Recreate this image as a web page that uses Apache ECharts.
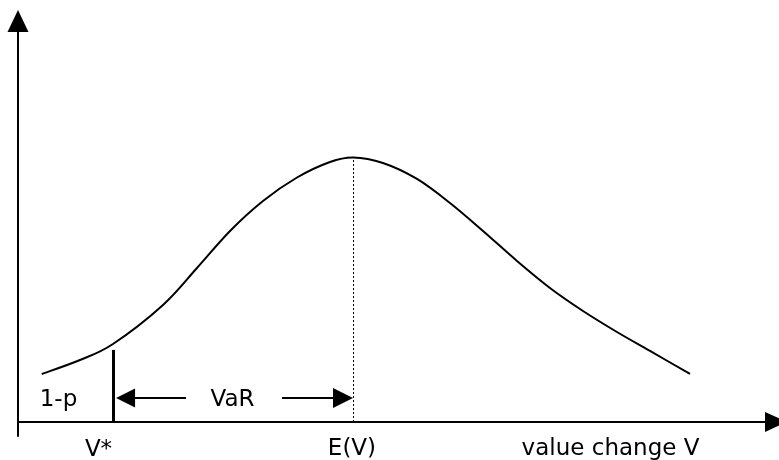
<!DOCTYPE html>
<html>
<head>
<meta charset="utf-8">
<script src="https://cdn.jsdelivr.net/npm/echarts@6/dist/echarts.min.js"></script>
<style>
html,body{margin:0;padding:0;background:#fff;}
#chart{width:779px;height:460px;}
</style>
</head>
<body>
<div id="chart"></div>
<script>
// Density curve of the value change V (abstract units)
const curveX = [3.13, 8.18, 12.53, 19.13, 23.61, 27.97, 32.32, 36.81, 41.16, 44.20, 48.15, 52.64, 56.99, 61.35, 65.83, 70.18, 74.54, 79.02, 83.38, 88.65];
const curveY = [11.97, 15.46, 19.45, 29.18, 38.40, 47.63, 55.11, 60.97, 64.84, 65.96, 64.59, 60.60, 54.61, 47.63, 40.15, 33.42, 27.68, 22.44, 17.71, 11.97];

// Key positions
const vStar = 12.60;      // V*
const vStarTop = 17.96;
const eV = 44.26;         // E(V)
const eVTop = 65.96;
const varY = 6.0;         // level of the VaR arrow
const varLeftArrow = [22.16, 14.19];   // from, arrow-head centre
const varRightArrow = [34.83, 42.88];  // from, arrow-head centre

// Text labels
const labelNames = ['1-p', 'VaR', 'V*', 'E(V)', 'value change V'];
const labelX = [5.34, 28.3, 10.62, 44.06, 78.17];
const labelY = [5.45, 5.4, -7.1, -6.7, -6.7];

// Axis ranges
const xRange = [0, 100];
const yRange = [-3.5, 100];

const chart = echarts.init(document.getElementById('chart'), null, {renderer: 'canvas'});
const font = 'DejaVu Sans';

// Catmull-Rom spline through the curve points, positioned by the chart's own scales
function renderCurve(params, api) {
  const p = curveX.map((x, i) => api.coord([x, curveY[i]]));
  let d = 'M' + p[0][0] + ' ' + p[0][1];
  for (let i = 0; i < p.length - 1; i++) {
    const p0 = p[Math.max(i - 1, 0)], p1 = p[i], p2 = p[i + 1], p3 = p[Math.min(i + 2, p.length - 1)];
    const c1x = p1[0] + (p2[0] - p0[0]) / 6, c1y = p1[1] + (p2[1] - p0[1]) / 6;
    const c2x = p2[0] - (p3[0] - p1[0]) / 6, c2y = p2[1] - (p3[1] - p1[1]) / 6;
    d += ' C' + c1x + ' ' + c1y + ' ' + c2x + ' ' + c2y + ' ' + p2[0] + ' ' + p2[1];
  }
  return {
    type: 'path',
    shape: {pathData: d},
    style: {fill: 'none', stroke: '#000', lineWidth: 2}
  };
}

chart.setOption({
  animation: false,
  backgroundColor: '#ffffff',
  grid: {left: 18, right: 3, top: 21, bottom: 24},
  xAxis: {
    type: 'value', min: xRange[0], max: xRange[1],
    axisLine: {show: true, onZero: true, symbol: ['none', 'triangle'], symbolSize: [20, 22],
      lineStyle: {color: '#000', width: 2}},
    axisTick: {show: false}, axisLabel: {show: false}, splitLine: {show: false}
  },
  yAxis: {
    type: 'value', min: yRange[0], max: yRange[1],
    axisLine: {show: true, onZero: true, symbol: ['none', 'triangle'], symbolSize: [21, 22],
      lineStyle: {color: '#000', width: 2}},
    axisTick: {show: false}, axisLabel: {show: false}, splitLine: {show: false}
  },
  series: [
    {
      type: 'custom',
      coordinateSystem: 'cartesian2d',
      clip: false,
      silent: true,
      data: [[curveX[0], curveY[0]]],
      renderItem: renderCurve,
      z: 3
    },
    {
      type: 'lines',
      coordinateSystem: 'cartesian2d',
      polyline: false,
      silent: true,
      z: 4,
      data: [
        {coords: [[vStar, 0], [vStar, vStarTop]], lineStyle: {width: 3, color: '#000', type: 'solid'}},
        {coords: [[eV, 0], [eV, eVTop]], lineStyle: {width: 1, color: '#000', type: [2, 2]}},
        {coords: [[varLeftArrow[0], varY], [varLeftArrow[1], varY]], symbol: ['none', 'triangle'], symbolSize: [20, 19],
          lineStyle: {width: 2, color: '#000', type: 'solid'}},
        {coords: [[varRightArrow[0], varY], [varRightArrow[1], varY]], symbol: ['none', 'triangle'], symbolSize: [20, 20],
          lineStyle: {width: 2, color: '#000', type: 'solid'}}
      ],
      symbol: ['none', 'none'],
      itemStyle: {color: '#000'},
      lineStyle: {color: '#000', opacity: 1}
    },
    {
      type: 'scatter',
      clip: false,
      silent: true,
      symbolSize: 1,
      itemStyle: {color: 'rgba(255,255,255,0)'},
      data: labelNames.map((n, i) => ({name: n, value: [labelX[i], labelY[i]]})),
      label: {
        show: true, position: 'inside', formatter: '{b}',
        fontFamily: font, fontSize: 23, fontWeight: 'normal', color: '#000000',
        textBorderWidth: 0, opacity: 1
      },
      z: 5
    }
  ]
});
</script>
</body>
</html>
